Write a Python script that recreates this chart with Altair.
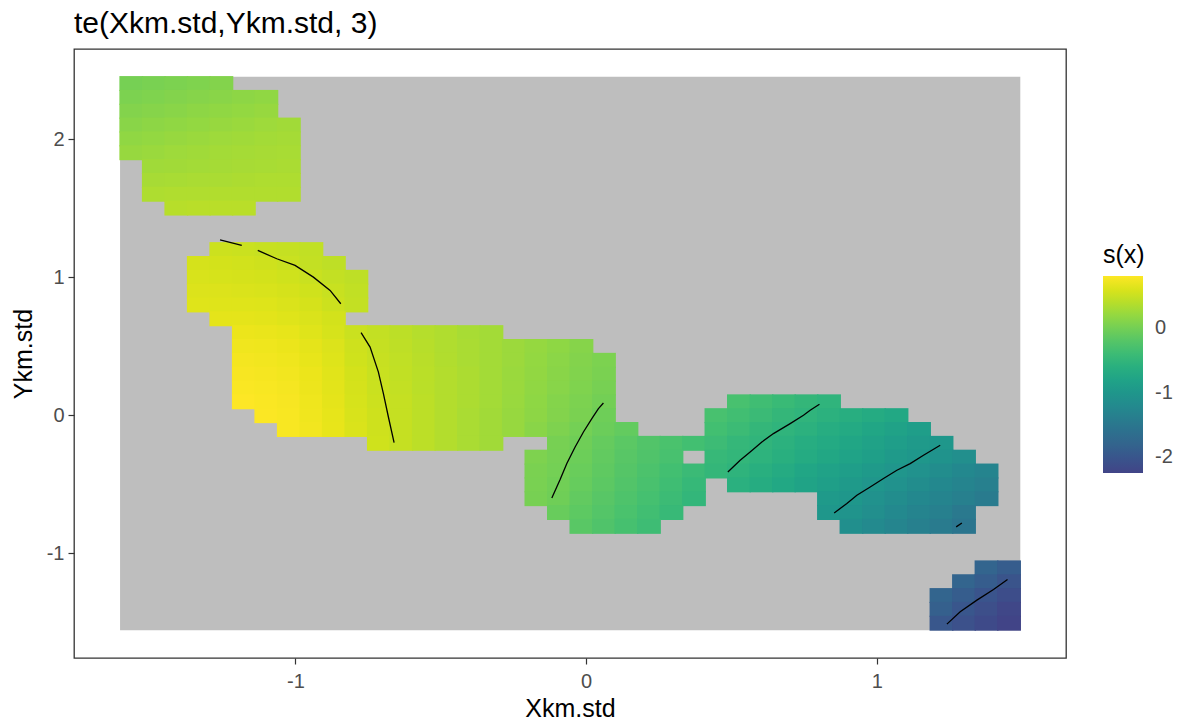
import altair as alt
import pandas as pd

# ---- grid (cell centres of the 40 x 40 raster) ----
x_centers = [-1.5648, -1.4873, -1.4099, -1.3325, -1.2550, -1.1776, -1.1002, -1.0228,
             -0.9453, -0.8679, -0.7905, -0.7130, -0.6356, -0.5582, -0.4807, -0.4033,
             -0.3259, -0.2485, -0.1710, -0.0936, -0.0162, 0.0613, 0.1387, 0.2161,
             0.2935, 0.3710, 0.4484, 0.5258, 0.6033, 0.6807, 0.7581, 0.8356,
             0.9130, 0.9904, 1.0678, 1.1453, 1.2227, 1.3001, 1.3776, 1.4550]
y_centers = [2.4046, 2.3043, 2.2040, 2.1037, 2.0034, 1.9031, 1.8028, 1.7025,
             1.6022, 1.5019, 1.4016, 1.3013, 1.2010, 1.1007, 1.0004, 0.9001,
             0.7999, 0.6996, 0.5993, 0.4990, 0.3987, 0.2984, 0.1981, 0.0978,
             -0.0025, -0.1028, -0.2031, -0.3034, -0.4037, -0.5040, -0.6043, -0.7046,
             -0.8049, -0.9052, -1.0055, -1.1058, -1.2061, -1.3064, -1.4067, -1.5070]

# ---- s(x) values: row index -> list of (first column, values); missing cells are NA ----
rows = {
    0: [(0, [0.02, 0.04, 0.06, 0.08, 0.10])],
    1: [(0, [0.06, 0.08, 0.10, 0.12, 0.14, 0.16, 0.18])],
    2: [(0, [0.10, 0.12, 0.14, 0.16, 0.18, 0.20, 0.22])],
    3: [(0, [0.14, 0.16, 0.18, 0.20, 0.22, 0.24, 0.26, 0.28])],
    4: [(0, [0.18, 0.20, 0.22, 0.24, 0.26, 0.27, 0.29, 0.30])],
    5: [(0, [0.22, 0.24, 0.26, 0.27, 0.29, 0.30, 0.31, 0.32])],
    6: [(1, [0.27, 0.28, 0.29, 0.30, 0.31, 0.32, 0.33])],
    7: [(1, [0.31, 0.32, 0.33, 0.33, 0.34, 0.35, 0.35])],
    8: [(1, [0.35, 0.36, 0.36, 0.37, 0.37, 0.37, 0.37])],
    9: [(2, [0.40, 0.41, 0.41, 0.41])],
    12: [(4, [0.52, 0.51, 0.49, 0.48, 0.46])],
    13: [(3, [0.57, 0.56, 0.55, 0.53, 0.505, 0.47, 0.44])],
    14: [(3, [0.59, 0.58, 0.57, 0.56, 0.54, 0.505, 0.47, 0.44])],
    15: [(3, [0.61, 0.61, 0.60, 0.59, 0.57, 0.54, 0.50, 0.46])],
    16: [(3, [0.63, 0.63, 0.63, 0.62, 0.60, 0.57, 0.52, 0.47])],
    17: [(4, [0.66, 0.66, 0.65, 0.63, 0.60, 0.56])],
    18: [(5, [0.70, 0.69, 0.67, 0.63, 0.58, 0.51, 0.47, 0.43, 0.39, 0.36, 0.32, 0.29])],
    19: [(5, [0.73, 0.72, 0.70, 0.66, 0.61, 0.53, 0.48, 0.44, 0.40, 0.36, 0.33, 0.29,
              0.25, 0.21, 0.17, 0.12])],
    20: [(5, [0.75, 0.74, 0.72, 0.68, 0.62, 0.54, 0.49, 0.45, 0.41, 0.37, 0.33, 0.29,
              0.25, 0.20, 0.15, 0.10, 0.06])],
    21: [(5, [0.77, 0.76, 0.74, 0.70, 0.64, 0.56, 0.50, 0.46, 0.42, 0.38, 0.34, 0.29,
              0.24, 0.19, 0.14, 0.09, 0.05])],
    22: [(5, [0.79, 0.78, 0.76, 0.71, 0.65, 0.57, 0.51, 0.47, 0.42, 0.38, 0.34, 0.29,
              0.24, 0.18, 0.13, 0.08, 0.03])],
    23: [(5, [0.81, 0.79, 0.77, 0.72, 0.66, 0.58, 0.52, 0.48, 0.43, 0.38, 0.34, 0.29,
              0.23, 0.17, 0.11, 0.06, 0.00]),
         (27, [-0.30, -0.36, -0.42, -0.47, -0.52])],
    24: [(6, [0.80, 0.78, 0.73, 0.67, 0.59, 0.53, 0.48, 0.43, 0.38, 0.33, 0.28, 0.22,
              0.16, 0.10, 0.05, -0.03]),
         (26, [-0.30, -0.35, -0.41, -0.47, -0.52, -0.57, -0.62, -0.67, -0.72])],
    25: [(7, [0.78, 0.74, 0.68, 0.60, 0.53, 0.48, 0.43, 0.38, 0.33, 0.28, 0.22, 0.14,
              0.07, 0.01, -0.05, -0.10]),
         (26, [-0.34, -0.40, -0.47, -0.52, -0.57, -0.63, -0.69, -0.75, -0.81, -0.87])],
    26: [(11, [0.54, 0.48, 0.43, 0.38, 0.33, 0.28]),
         (19, [0.03, -0.02, -0.09, -0.16, -0.22, -0.28, -0.34, -0.39, -0.46, -0.51,
               -0.57, -0.63, -0.69, -0.75, -0.81, -0.87, -0.93, -0.99])],
    27: [(18, [0.07, 0.02, -0.04, -0.11, -0.18, -0.24, -0.30]),
         (26, [-0.44, -0.48, -0.54, -0.60, -0.67, -0.73, -0.80, -0.86, -0.93, -0.99,
               -1.06, -1.13])],
    28: [(18, [0.05, 0.01, -0.06, -0.13, -0.20, -0.27, -0.34, -0.41, -0.47, -0.53,
               -0.60, -0.67, -0.74, -0.81, -0.87, -0.94, -1.01, -1.08, -1.15, -1.22,
               -1.29])],
    29: [(18, [0.04, -0.01, -0.08, -0.15, -0.22, -0.29, -0.37, -0.45]),
         (27, [-0.58, -0.65, -0.72, -0.79, -0.86, -0.93, -1.01, -1.08, -1.15, -1.22,
               -1.29, -1.36])],
    30: [(18, [0.03, -0.02, -0.11, -0.18, -0.25, -0.32, -0.40, -0.48]),
         (31, [-0.93, -0.99, -1.07, -1.15, -1.22, -1.30, -1.37, -1.44])],
    31: [(19, [-0.07, -0.14, -0.21, -0.28, -0.35, -0.43]),
         (31, [-0.98, -1.05, -1.13, -1.21, -1.29, -1.37, -1.47])],
    32: [(20, [-0.17, -0.24, -0.31, -0.38]),
         (32, [-1.12, -1.20, -1.28, -1.36, -1.44, -1.52])],
    35: [(38, [-1.78, -1.90])],
    36: [(37, [-1.78, -1.90, -2.02])],
    37: [(36, [-1.78, -1.90, -2.01, -2.12])],
    38: [(36, [-1.86, -1.99, -2.10, -2.20])],
    39: [(36, [-1.97, -2.07, -2.16, -2.24])],
}

# ---- contour lines (level, x points, y points) ----
contour_level = [0.5, 0.5, 0.5, 0.0, -0.5, -1.0, -1.5, -2.0]
contour_x = [
    [-1.2595, -1.1848],
    [-1.1297, -1.0644, -1.0014, -0.9384, -0.8809, -0.8441],
    [-0.7743, -0.7433, -0.7147, -0.6975, -0.6803, -0.6607],
    [-0.1180, -0.0895, -0.0664, -0.0379, -0.0093, 0.0196, 0.0423, 0.0595],
    [0.4876, 0.5299, 0.5643, 0.6046, 0.6445, 0.7020, 0.7478, 0.7708, 0.8028],
    [0.8534, 0.8971, 0.9315, 0.9773, 1.0231, 1.0692, 1.1149, 1.1607, 1.2182],
    [1.2732, 1.2928],
    [1.2412, 1.2870, 1.3445, 1.4016, 1.4498],
]
contour_y = [
    [1.2723, 1.2310],
    [1.1948, 1.1347, 1.0862, 1.0014, 0.9051, 0.8088],
    [0.5988, 0.4946, 0.3135, 0.1571, -0.0123, -0.1977],
    [-0.5988, -0.4656, -0.3497, -0.2295, -0.1209, -0.0239, 0.0485, 0.0891],
    [-0.4106, -0.3259, -0.2657, -0.1933, -0.1325, -0.0601, 0.0000, 0.0362, 0.0797],
    [-0.7075, -0.6394, -0.5793, -0.5192, -0.4584, -0.3983, -0.3497, -0.2896, -0.2172],
    [-0.8088, -0.7799],
    [-1.5134, -1.4243, -1.3396, -1.2621, -1.1897],
]

legend_ticks = [-2, -1, 0]
x_ticks = [-1, 0, 1]
y_ticks = [-1, 0, 1, 2]

# ---- build tables ----
hx = (x_centers[1] - x_centers[0]) / 2
hy = (y_centers[0] - y_centers[1]) / 2
# cells drawn a hair larger than half a step so neighbours overlap (no seams)
ox, oy = hx * 1.06, hy * 1.08
recs = []
for r, segs in rows.items():
    for c0, vals in segs:
        for k, v in enumerate(vals):
            c = c0 + k
            recs.append({"x1": x_centers[c] - ox, "x2": x_centers[c] + ox,
                         "y1": y_centers[r] - oy, "y2": y_centers[r] + oy, "v": v})
cells = pd.DataFrame(recs)
bg = pd.DataFrame([{"x1": x_centers[0] - hx, "x2": x_centers[-1] + hx,
                    "y1": y_centers[-1] - hy, "y2": y_centers[0] + hy}])
lines = []
for i, (lv, xs_, ys_) in enumerate(zip(contour_level, contour_x, contour_y)):
    for j, (a, b) in enumerate(zip(xs_, ys_)):
        lines.append({"piece": i, "level": lv, "idx": j, "x": a, "y": b})
lines = pd.DataFrame(lines)

vmin, vmax = cells["v"].min(), cells["v"].max()
FONT = "Liberation Sans"
PLAIN = "'' + datum.value"

xs = alt.Scale(domain=[-1.762, 1.651], nice=False, zero=False)
ys = alt.Scale(domain=[-1.759, 2.655], nice=False, zero=False)
cscale = alt.Scale(scheme=alt.SchemeParams(name="viridis", extent=[0.2, 1.0]),
                   domain=[vmin, vmax])

xaxis = alt.Axis(values=x_ticks, title="Xkm.std", grid=False, domain=False,
                 labelExpr=PLAIN,
                 labelFontSize=20, labelColor="#4D4D4D", labelFont=FONT,
                 tickSize=6, tickColor="#333333", tickWidth=1.2, labelPadding=7,
                 titleFontSize=25, titleFont=FONT, titleFontWeight="normal",
                 titleColor="black", titlePadding=5)
yaxis = alt.Axis(values=y_ticks, title="Ykm.std", grid=False, domain=False,
                 labelExpr=PLAIN,
                 labelFontSize=20, labelColor="#4D4D4D", labelFont=FONT,
                 tickSize=6, tickColor="#333333", tickWidth=1.2, labelPadding=4,
                 titleFontSize=25, titleFont=FONT, titleFontWeight="normal",
                 titleColor="black", titlePadding=10)

background = alt.Chart(bg).mark_rect(color="#BEBEBE").encode(
    x=alt.X("x1:Q", scale=xs, axis=xaxis),
    x2="x2:Q",
    y=alt.Y("y1:Q", scale=ys, axis=yaxis),
    y2="y2:Q",
)

raster = alt.Chart(cells).mark_rect().encode(
    x=alt.X("x1:Q", scale=xs),
    x2="x2:Q",
    y=alt.Y("y1:Q", scale=ys),
    y2="y2:Q",
    color=alt.Color("v:Q", scale=cscale, legend=alt.Legend(
        type="gradient", title="s(x)", orient="none", legendX=1029, legendY=194,
        direction="vertical", gradientLength=197, gradientThickness=40,
        values=legend_ticks, labelExpr=PLAIN, labelFontSize=20,
        labelColor="#4D4D4D", labelFont=FONT, titleFont=FONT, titleFontSize=25,
        titleFontWeight="normal", titleColor="black", titlePadding=8,
        labelOffset=12, gradientStrokeWidth=0)),
)

contours = alt.Chart(lines).mark_line(color="black", strokeWidth=1.3).encode(
    x=alt.X("x:Q", scale=xs),
    y=alt.Y("y:Q", scale=ys),
    detail="piece:N",
    order="idx:Q",
)

chart = alt.layer(background, raster, contours).properties(
    width=992, height=609,
    background="white",
    title=alt.TitleParams("te(Xkm.std,Ykm.std, 3)", anchor="start", frame="group",
                          fontSize=30, font=FONT, fontWeight="normal",
                          color="black", offset=10),
    autosize=alt.AutoSizeParams(type="none"),
    padding={"left": 74, "top": 49, "right": 122, "bottom": 69},
).configure_view(stroke="#333333", strokeWidth=1.3)

chart.save("out.html", embed_options={"renderer": "svg", "actions": False})
